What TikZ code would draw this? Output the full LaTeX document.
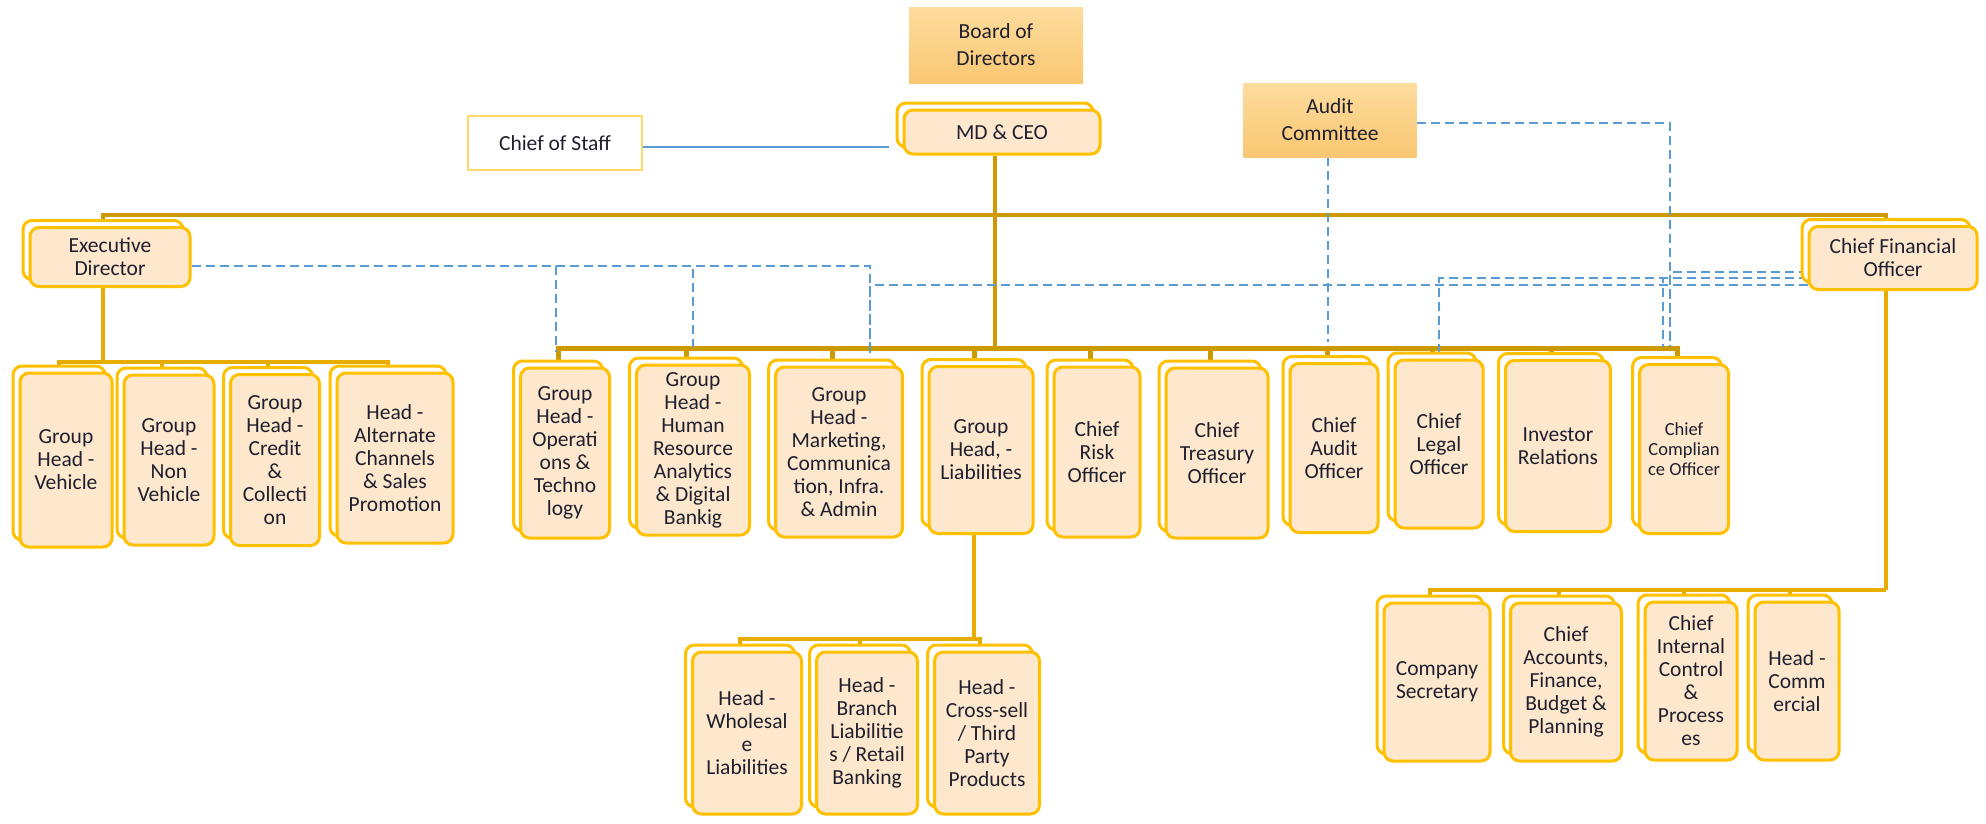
\documentclass[tikz,border=0pt]{standalone}
\usepackage{fontspec}
\setmainfont{Carlito}
\usetikzlibrary{shadows,backgrounds,calc}

\definecolor{boxline}{HTML}{FFC000}
\definecolor{boxfill}{HTML}{FDE8CE}
\definecolor{boardtop}{HTML}{FDDC9E}
\definecolor{boardbot}{HTML}{F9C772}
\definecolor{staffline}{HTML}{FFD966}
\definecolor{linkdark}{HTML}{CC9A00}
\definecolor{linklight}{HTML}{E6AC00}
\definecolor{reportblue}{HTML}{5B9BD5}
\definecolor{textdark}{HTML}{1F1F2E}

\begin{document}
\begin{tikzpicture}[x=1pt, y=-1pt,
    boxsize/.style 2 args={minimum width=#1pt, minimum height=#2pt},
    post/.style={draw=boxline, line width=3pt, fill=boxfill, rounded corners=9pt,
      align=center, inner sep=2pt, text=textdark, font=\fontsize{21.5}{23}\selectfont,
      copy shadow={shadow xshift=-7pt, shadow yshift=7pt, draw=boxline, fill=white, line width=3pt}},
    board/.style={top color=boardtop, bottom color=boardbot, align=center,
      text=textdark, font=\fontsize{21.5}{27}\selectfont},
    staff/.style={draw=staffline, line width=2pt, fill=white, text=textdark,
      font=\fontsize{21.5}{23}\selectfont},
    trunk/.style={draw=linkdark, line width=4.5pt},
    mainlink/.style={draw=linkdark, line width=5pt},
    link/.style={draw=linklight, line width=3.5pt},
    dashlink/.style={draw=reportblue, line width=2pt, dash pattern=on 9pt off 5pt},
    stafflink/.style={draw=reportblue, line width=2pt}]
  \useasboundingbox (0,0) rectangle (1986,823);

  % Board, MD & CEO
  \node[board, boxsize={174}{76}] (board) at (996,45) {Board of\\Directors};
  \node[board, boxsize={173}{74}] (audit) at (1330,120) {Audit\\Committee};
  \node[staff, boxsize={174}{54}] (cos) at (555,143) {Chief of Staff};
  \node[post, boxsize={196}{44}] (mdceo) at (1002,132) {MD \& CEO};
  \node[post, boxsize={160}{59}] (ed) at (110,257) {Executive\\Director};
  \node[post, boxsize={168}{63}] (cfo) at (1893,258) {Chief Financial\\Officer};

  % Executive Director team
  \node[post, boxsize={92}{174}] (veh) at (66,460) {Group\\Head -\\Vehicle};
  \node[post, boxsize={90}{170}] (nonveh) at (169,460) {Group\\Head -\\Non\\Vehicle};
  \node[post, boxsize={89}{171}] (credit) at (275,460) {Group\\Head -\\Credit\\\&\\Collecti\\on};
  \node[post, boxsize={116}{170}] (altch) at (395,458) {Head -\\Alternate\\Channels\\\& Sales\\Promotion};

  % MD & CEO team
  \node[post, boxsize={89}{170}] (ops) at (565,453) {Group\\Head -\\Operati\\ons \&\\Techno\\logy};
  \node[post, boxsize={113}{170}] (hr) at (693,450) {Group\\Head -\\Human\\Resource\\Analytics\\\& Digital\\Bankig};
  \node[post, boxsize={127}{170}] (mkt) at (839,452) {Group\\Head -\\Marketing,\\Communica\\tion, Infra.\\\& Admin};
  \node[post, boxsize={104}{167}] (liab) at (981,450) {Group\\Head, -\\Liabilities};
  \node[post, boxsize={86}{170}] (risk) at (1097,452) {Chief\\Risk\\Officer};
  \node[post, boxsize={102}{170}] (treas) at (1217,453) {Chief\\Treasury\\Officer};
  \node[post, boxsize={88}{169}] (aoff) at (1334,448) {Chief\\Audit\\Officer};
  \node[post, boxsize={88}{168}] (legal) at (1439,444) {Chief\\Legal\\Officer};
  \node[post, boxsize={105}{171}] (inv) at (1558,446) {Investor\\Relations};
  \node[post, boxsize={89}{169}, font=\fontsize{18.5}{20}\selectfont] (comp) at (1684,449) {Chief\\Complian\\ce Officer};

  % Liabilities team
  \node[post, boxsize={109}{162}] (whole) at (747,733) {Head -\\Wholesal\\e\\Liabilities};
  \node[post, boxsize={101}{162}] (branch) at (867,733) {Head -\\Branch\\Liabilitie\\s / Retail\\Banking};
  \node[post, boxsize={105}{162}] (cross) at (987,733) {Head -\\Cross-sell\\/ Third\\Party\\Products};

  % CFO team
  \node[post, boxsize={106}{158}] (compsec) at (1437,682) {Company\\Secretary};
  \node[post, boxsize={111}{158}] (accts) at (1566,682) {Chief\\Accounts,\\Finance,\\Budget \&\\Planning};
  \node[post, boxsize={92}{158}] (intctl) at (1691,681) {Chief\\Internal\\Control\\\&\\Process\\es};
  \node[post, boxsize={84}{158}] (comm) at (1797,681) {Head -\\Comm\\ercial};

  \coordinate (topj) at (995,215);
  \coordinate (mainj) at (995,348);
  \coordinate (edj) at (103,362);
  \coordinate (liabj) at (974,639);
  \coordinate (cfoj) at (1886,590);

  \begin{scope}[on background layer]
    % solid reporting lines
    \draw[trunk] ([xshift=-7pt]mdceo.south) -- (mainj);
    \draw[trunk] ([xshift=-7pt]ed.north) |- (topj) -| ([xshift=-7pt]cfo.north);
    \foreach \who in {ops,hr,mkt,liab,risk,treas,aoff,legal,inv,comp}
      \draw[mainlink] ([xshift=-7pt]\who.north) |- (mainj);
    \draw[link] ([xshift=-7pt]ed.south) -- (edj);
    \foreach \who in {veh,nonveh,credit,altch}
      \draw[link] ([xshift=-7pt]\who.north) |- (edj);
    \draw[link] ([xshift=-7pt]liab.south) -- (liabj);
    \foreach \who in {whole,branch,cross}
      \draw[link] ([xshift=-7pt]\who.north) |- (liabj);
    \draw[link] ([xshift=-7pt]cfo.south) -- (cfoj);
    \foreach \who in {compsec,accts,intctl,comm}
      \draw[link] ([xshift=-7pt]\who.north) |- (cfoj);

    % dotted reporting lines
    \draw[stafflink] ($(cos.east)+(0,4)$) -- ($(cos.east -| mdceo.west)+(-14,4)$);
    \draw[dashlink] ($(ed.east)+(0,9)$) -| ($(ops.north)+(-9,-15)$);
    \draw[dashlink] ($(ed.east)+(0,9)$) -| ($(hr.north)+(0,-17)$);
    \draw[dashlink] ($(ed.east)+(0,9)$) -| ($(mkt.north)+(31,-10)$);
    \draw[dashlink] ($(audit.east)+(0,3)$) -| ($(comp.north)+(-14,-16)$);
    \draw[dashlink] ($(audit.south)+(-2,0)$) -- ($(audit.south |- mainj)+(-2,-6)$);
    \draw[dashlink] ($(cfo.west)+(0,14)$) -| ($(comp.north)+(-14,-16)$);
    \draw[dashlink] ($(cfo.west)+(0,20)$) -| ($(comp.north)+(-21,-16)$);
    \draw[dashlink] ($(cfo.west)+(0,20)$) -| (legal.north);
    \draw[dashlink] ($(cfo.west)+(0,27)$) -| ($(mkt.north)+(31,-10)$);
  \end{scope}
\end{tikzpicture}
\end{document}
